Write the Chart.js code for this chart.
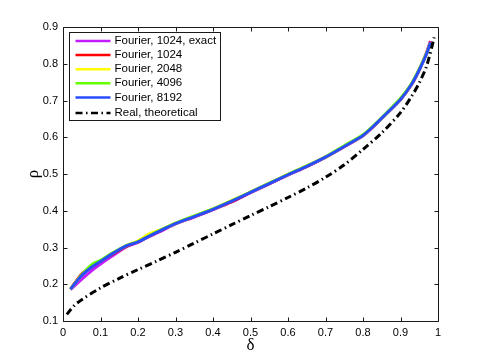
<!DOCTYPE html>
<html>
<head>
<meta charset="utf-8">
<script src="https://cdn.jsdelivr.net/npm/chart.js@4.4.1/dist/chart.umd.min.js"></script>
<style>
html,body{margin:0;padding:0;background:#fff;}
#wrap{width:485px;height:360px;}
</style>
</head>
<body>
<div id="wrap"><canvas id="c" width="485" height="360"></canvas></div>
<script>
// ---- data ----
const deltaF = [0.02,0.05,0.08,0.1,0.13,0.17,0.2,0.23,0.26,0.3,0.35,0.4,0.45,0.5,0.55,0.6,0.65,0.7,0.75,0.8,0.83,0.86,0.9,0.93,0.95,0.97,0.98];
const rhoExact1024 = [0.185,0.214,0.240,0.255,0.276,0.302,0.314,0.330,0.344,0.364,0.383,0.403,0.424,0.449,0.473,0.497,0.520,0.545,0.574,0.604,0.631,0.661,0.702,0.744,0.784,0.832,0.862];
const rho1024 = [0.187,0.228,0.250,0.263,0.281,0.304,0.315,0.331,0.346,0.365,0.384,0.404,0.425,0.450,0.474,0.498,0.521,0.546,0.575,0.605,0.632,0.662,0.703,0.745,0.783,0.830,0.860];
const rho2048 = [0.188,0.224,0.251,0.263,0.283,0.306,0.318,0.337,0.348,0.366,0.385,0.405,0.428,0.451,0.475,0.499,0.522,0.546,0.576,0.605,0.632,0.661,0.703,0.746,0.784,0.829,0.858];
const rho4096 = [0.186,0.226,0.256,0.265,0.284,0.306,0.316,0.332,0.347,0.366,0.386,0.405,0.427,0.451,0.475,0.499,0.522,0.547,0.577,0.607,0.634,0.664,0.706,0.747,0.786,0.829,0.857];
const rho8192 = [0.187,0.224,0.249,0.262,0.282,0.305,0.315,0.331,0.346,0.365,0.384,0.404,0.426,0.450,0.474,0.498,0.521,0.546,0.575,0.605,0.632,0.662,0.703,0.745,0.783,0.828,0.858];
const deltaR = [0.01,0.03,0.05,0.1,0.15,0.2,0.25,0.3,0.35,0.4,0.45,0.5,0.55,0.6,0.65,0.7,0.75,0.8,0.85,0.9,0.93,0.95,0.97,0.99];
const rhoTheory = [0.118,0.142,0.158,0.19,0.216,0.24,0.263,0.287,0.312,0.337,0.362,0.387,0.411,0.436,0.462,0.491,0.525,0.567,0.612,0.667,0.712,0.748,0.795,0.872];
const seriesLabels = ['Fourier, 1024, exact','Fourier, 1024','Fourier, 2048','Fourier, 4096','Fourier, 8192','Real, theoretical'];
const xTicks = [0,0.1,0.2,0.3,0.4,0.5,0.6,0.7,0.8,0.9,1];
const yTicks = [0.1,0.2,0.3,0.4,0.5,0.6,0.7,0.8,0.9];

function pts(xs, ys){ return xs.map((x,i)=>({x:x,y:ys[i]})); }
const colors = ['#c41cff','#ff0000','#ffff00','#66ff00','#2a4cff','#000000'];
const fourier = [rhoExact1024, rho1024, rho2048, rho4096, rho8192];

const datasets = fourier.map((ys,i)=>({
  label: seriesLabels[i],
  data: pts(deltaF, ys),
  borderColor: colors[i],
  borderWidth: 3,
  pointRadius: 0,
  tension: 0.25,
  fill: false,
  order: 10 - i
}));
datasets.push({
  label: seriesLabels[5],
  data: pts(deltaR, rhoTheory),
  borderColor: colors[5],
  borderWidth: 3,
  borderDash: [7,3.5,1.5,3.5],
  borderCapStyle: 'butt',
  pointRadius: 0,
  tension: 0.3,
  fill: false,
  order: 0
});

const TICKFONT = {family:'"Liberation Sans", Arial, sans-serif', size: 11};

const frame = {
  id: 'frame',
  afterDatasetsDraw(chart){
    const ctx = chart.ctx, a = chart.chartArea;
    const xs = chart.scales.x, ys = chart.scales.y;
    ctx.save();
    ctx.strokeStyle = '#1a1a1a';
    ctx.lineWidth = 1;
    ctx.beginPath();
    const L = Math.round(a.left)+0.5, R = Math.round(a.right)+0.5, T = Math.round(a.top)+0.5, B = Math.round(a.bottom)+0.5;
    ctx.rect(L, T, R-L, B-T);
    const tl = 4;
    xTicks.forEach(v=>{
      const px = Math.round(xs.getPixelForValue(v))+0.5;
      ctx.moveTo(px,B); ctx.lineTo(px,B-tl);
      ctx.moveTo(px,T); ctx.lineTo(px,T+tl);
    });
    yTicks.forEach(v=>{
      const py = Math.round(ys.getPixelForValue(v))+0.5;
      ctx.moveTo(L,py); ctx.lineTo(L+tl,py);
      ctx.moveTo(R,py); ctx.lineTo(R-tl,py);
    });
    ctx.stroke();

    // legend box inside plot
    const bx = L+6, by = T+5, bw = 151, rowH = 14.1, bh = 88;
    ctx.fillStyle = '#fff';
    ctx.fillRect(bx, by, bw, bh);
    ctx.strokeStyle = '#1a1a1a';
    ctx.strokeRect(bx, by, bw, bh);
    ctx.font = '11.5px "Liberation Sans", Arial, sans-serif';
    ctx.textBaseline = 'middle';
    chart.data.datasets.forEach((ds,i)=>{
      const cy = by + 8.5 + i*rowH + (i===5?1.5:0);
      ctx.save();
      ctx.strokeStyle = ds.borderColor;
      ctx.lineWidth = 2.5;
      if (ds.borderDash) ctx.setLineDash(ds.borderDash);
      ctx.beginPath();
      ctx.moveTo(bx+6, cy); ctx.lineTo(bx+41, cy);
      ctx.stroke();
      ctx.restore();
      ctx.fillStyle = '#000';
      ctx.fillText(ds.label, bx+45, cy);
    });
    ctx.restore();
  }
};

new Chart(document.getElementById('c'), {
  type: 'line',
  data: { datasets },
  options: {
    responsive: false,
    animation: false,
    layout: { padding: { left: 0, right: 47, top: 27, bottom: 0 } },
    plugins: { legend: { display: false }, tooltip: { enabled: false } },
    scales: {
      x: {
        type: 'linear', min: 0, max: 1,
        afterBuildTicks: s => { s.ticks = xTicks.map(v=>({value:v})); },
        afterFit: s => { s.height = 39; },
        grid: { display: false, drawTicks: false },
        border: { display: false },
        ticks: { font: TICKFONT, color: '#000', padding: 5, maxRotation: 0,
                 callback: v => String(v) },
        title: { display: true, text: 'δ', color: '#000',
                 font: {family:'"Liberation Serif", "DejaVu Serif", serif', size: 17},
                 padding: {top: 0, bottom: 4} }
      },
      y: {
        type: 'linear', min: 0.1, max: 0.9,
        afterBuildTicks: s => { s.ticks = yTicks.map(v=>({value:v})); },
        afterFit: s => { s.width = 63; },
        grid: { display: false, drawTicks: false },
        border: { display: false },
        ticks: { font: TICKFONT, color: '#000', padding: 5,
                 callback: v => String(Math.round(v*10)/10) },
        title: { display: true, text: 'ρ', color: '#000',
                 font: {family:'"Liberation Serif", "DejaVu Serif", serif', size: 17},
                 padding: {top: 23, bottom: 0} }
      }
    }
  },
  plugins: [frame]
});
</script>
</body>
</html>
